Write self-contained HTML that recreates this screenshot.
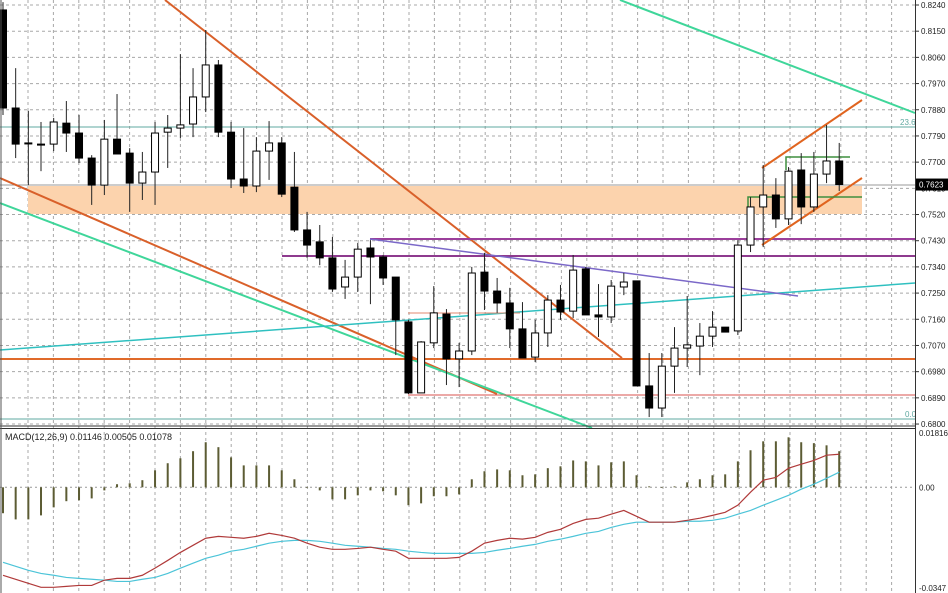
<!DOCTYPE html>
<html><head><meta charset="utf-8"><style>
html,body{margin:0;padding:0;background:#fff;}
svg{display:block;font-family:"Liberation Sans",sans-serif;}
</style></head><body>
<svg id="chart" width="948" height="593" xmlns="http://www.w3.org/2000/svg">
<rect width="948" height="593" fill="#fff"/>
<g id="grid"></g>
<rect x="28" y="186" width="834" height="28" fill="#fcd3ad"/>
<g id="lines">
<line x1="0" y1="185" x2="915" y2="185" stroke="#9a9a9a" stroke-width="1"/>
<line x1="0" y1="127" x2="915" y2="127" stroke="#5fa8a0" stroke-width="1"/>
<line x1="0" y1="419" x2="915" y2="419" stroke="#5fa8a0" stroke-width="1"/>
<line x1="165" y1="0" x2="622" y2="358" stroke="#d9602a" stroke-width="2"/>
<line x1="0" y1="178" x2="497" y2="394" stroke="#d9602a" stroke-width="2"/>
<line x1="0" y1="203" x2="592" y2="428" stroke="#3fd69a" stroke-width="2"/>
<line x1="620" y1="0" x2="915" y2="113" stroke="#3fd69a" stroke-width="2"/>
<line x1="0" y1="350" x2="915" y2="283" stroke="#2fc0c0" stroke-width="1.5"/>
<line x1="370" y1="239" x2="915" y2="239" stroke="#9b3f9b" stroke-width="2"/>
<line x1="282" y1="256" x2="915" y2="256" stroke="#8e3a8e" stroke-width="2"/>
<line x1="370" y1="239" x2="798" y2="296" stroke="#7b68c8" stroke-width="1.5"/>
<line x1="0" y1="359" x2="915" y2="359" stroke="#e06a2a" stroke-width="2"/>
<line x1="408" y1="395" x2="915" y2="395" stroke="#d9534f" stroke-width="1"/>
<line x1="408" y1="313" x2="520" y2="313" stroke="#e08a70" stroke-width="1"/>
<line x1="762" y1="168" x2="862" y2="100" stroke="#e0641f" stroke-width="2"/>
<line x1="762" y1="245" x2="862" y2="178" stroke="#e0641f" stroke-width="2"/>
<polyline points="786,170 786,157 850,157" fill="none" stroke="#3f8f3f" stroke-width="1.5"/>
<polyline points="748,207 748,197 862,197" fill="none" stroke="#3f8f3f" stroke-width="1.5"/>
<text x="900" y="125" font-size="8" fill="#5fa8a0">23.6</text>
<text x="905" y="417" font-size="8" fill="#5fa8a0">0.0</text>
</g>
<g id="candles"></g>
<g id="macd"></g>
<line x1="0" y1="426" x2="915" y2="426" stroke="#333" stroke-width="1"/>
<line x1="0" y1="428.5" x2="915" y2="428.5" stroke="#333" stroke-width="1"/>
<line x1="915.5" y1="0" x2="915.5" y2="593" stroke="#333" stroke-width="1"/>
<line x1="1" y1="0" x2="1" y2="593" stroke="#555" stroke-width="1"/>
<g id="axis"></g>
<text x="5" y="440" font-size="9" fill="#222">MACD(12,26,9) 0.01146 0.00505 0.01078</text>
</svg>
<script>
const opens=[.8223,.7886,.7766,.7762,.7762,.7834,.7800,.7714,.7621,.7779,.7731,.7628,.7666,.7803,.7817,.7831,.7924,.8034,.7803,.7642,.7618,.7738,.7766,.7614,.7467,.7426,.7371,.7271,.7305,.7405,.7374,.7305,.7151,.6907,.7079,.7178,.7024,.7051,.7322,.7257,.7216,.7127,.7030,.7113,.7226,.7188,.7333,.7175,.7168,.7271,.7292,.6931,.6855,.6999,.7061,.7068,.7102,.7133,.7120,.7415,.7546,.7587,.7505,.7673,.7546,.7659,.7704];
const highs=[.8250,.8023,.7876,.7838,.7852,.7910,.7862,.7724,.7845,.7934,.7748,.7735,.7838,.7862,.8071,.8023,.8154,.8051,.7838,.7817,.7786,.7841,.7786,.7735,.7529,.7484,.7443,.7364,.7422,.7432,.7381,.7305,.7158,.7085,.7274,.7195,.7079,.7340,.7388,.7302,.7268,.7219,.7158,.7243,.7278,.7381,.7340,.7281,.7295,.7319,.7292,.7044,.7044,.7133,.7240,.7147,.7188,.7133,.7432,.7580,.7690,.7645,.7683,.7731,.7735,.7828,.7766];
const lows=[.7862,.7714,.7621,.7669,.7738,.7735,.7697,.7553,.7587,.7728,.7529,.7570,.7553,.7680,.7783,.7786,.7872,.7786,.7611,.7594,.7597,.7639,.7580,.7460,.7371,.7346,.7254,.7230,.7254,.7212,.7278,.7037,.6903,.6907,.7061,.6934,.6927,.7037,.7192,.7182,.7061,.7027,.7013,.7065,.7158,.7164,.7175,.7099,.7147,.7243,.6931,.6824,.6824,.6907,.6996,.6968,.7065,.7116,.7106,.7391,.7408,.7474,.7484,.7487,.7529,.7628,.7601];
const closes=[.7886,.7762,.7764,.7760,.7838,.7800,.7714,.7621,.7779,.7728,.7628,.7666,.7800,.7817,.7828,.7924,.8034,.7803,.7642,.7618,.7738,.7766,.7590,.7467,.7415,.7371,.7264,.7305,.7401,.7374,.7302,.7158,.6907,.7082,.7182,.7024,.7051,.7319,.7257,.7216,.7127,.7027,.7113,.7226,.7185,.7329,.7175,.7168,.7274,.7288,.6931,.6855,.6999,.7061,.7072,.7102,.7133,.7116,.7415,.7546,.7587,.7505,.7669,.7546,.7659,.7704,.7623];
const histValues=[-.0084,-.0104,-.0104,-.0091,-.0065,-.0045,-.0042,-.0036,-.0010,.0010,.0013,.0023,.0055,.0078,.0094,.0117,.0146,.0130,.0097,.0071,.0071,.0071,.0055,.0026,0,-.0010,-.0039,-.0039,-.0026,-.0010,-.0013,-.0026,-.0058,-.0052,-.0029,-.0029,-.0023,.0026,.0052,.0058,.0055,.0039,.0042,.0062,.0068,.0087,.0084,.0071,.0081,.0084,.0039,.0003,0,.0003,.0016,.0026,.0039,.0042,.0084,.0120,.0149,.0149,.0162,.0146,.0143,.0136,.0117];
const macdLine=[-.0285,-.0298,-.0311,-.0324,-.0324,-.0321,-.0318,-.0318,-.0301,-.0295,-.0295,-.0285,-.0262,-.0237,-.0211,-.0188,-.0165,-.0159,-.0162,-.0165,-.0159,-.0149,-.0156,-.0165,-.0181,-.0194,-.0201,-.0201,-.0198,-.0194,-.0201,-.0207,-.0230,-.0230,-.0230,-.0230,-.0227,-.0207,-.0181,-.0172,-.0165,-.0168,-.0162,-.0146,-.0136,-.0117,-.0104,-.0100,-.0087,-.0075,-.0094,-.0113,-.0113,-.0113,-.0107,-.0100,-.0091,-.0081,-.0058,-.0016,.0023,.0032,.0062,.0075,.0087,.0104,.0107];
const signalLine=[-.0243,-.0256,-.0269,-.0279,-.0285,-.0292,-.0295,-.0298,-.0301,-.0305,-.0305,-.0298,-.0292,-.0279,-.0262,-.0246,-.0230,-.0220,-.0207,-.0201,-.0191,-.0181,-.0175,-.0172,-.0172,-.0175,-.0181,-.0188,-.0191,-.0194,-.0198,-.0201,-.0207,-.0211,-.0214,-.0214,-.0214,-.0214,-.0211,-.0204,-.0198,-.0191,-.0185,-.0175,-.0168,-.0159,-.0149,-.0143,-.0130,-.0120,-.0113,-.0113,-.0113,-.0113,-.0110,-.0110,-.0107,-.0100,-.0087,-.0075,-.0058,-.0042,-.0026,-.0006,.0010,.0029,.0049];
const priceTicks=["0.8240","0.8150","0.8060","0.7970","0.7880","0.7790","0.7700","0.7610","0.7520","0.7430","0.7340","0.7250","0.7160","0.7070","0.6980","0.6890","0.6800"];
const macdTicks=["0.01816","0.00","-0.0347"];
const macdTickValues=[0.01816,0,-0.0347];

const NS="http://www.w3.org/2000/svg";
function xAt(i){return 3+i*12.67;}
function yP(p){return 5+(0.824-p)*2910;}
function yM(v){return 487.3-v/0.000324;}
function mk(tag,attrs,parent){const e=document.createElementNS(NS,tag);for(const k in attrs)e.setAttribute(k,attrs[k]);parent.appendChild(e);return e;}

const grid=document.getElementById('grid');
for(let x=28;x<915;x+=25.4){
  const l=mk('line',{x1:x,y1:0,x2:x,y2:593,stroke:'#a8a8a8','stroke-width':1,'stroke-dasharray':'3,3'},grid);
  
  
}
const axis=document.getElementById('axis');
priceTicks.forEach(t=>{
  const y=yP(parseFloat(t));
  const l=mk('line',{x1:0,y1:y,x2:915,y2:y,stroke:'#a8a8a8','stroke-width':1,'stroke-dasharray':'3,3'},grid);
  
  
  const tk=mk('line',{x1:915,y1:y,x2:919,y2:y,stroke:'#333'},axis);
  
  
  const tx=mk('text',{x:921,y:y+3,'font-size':8,fill:'#222'},axis);
  tx.textContent=t;
  
  
});
macdTicks.forEach((t,k)=>{
  let y=yM(macdTickValues[k]);
  if(k===0)y=433; if(k===2)y=588;
  const tx=mk('text',{x:919,y:y+3,'font-size':8,fill:'#222'},axis);
  tx.textContent=t;
  
  
});
const cy=yP(closes[closes.length-1]);
const box=mk('rect',{x:916,y:cy-6,width:32,height:12,fill:'#000'},axis);


const bt=mk('text',{x:919,y:cy+3,'font-size':8,fill:'#fff'},axis);
bt.textContent=closes[closes.length-1].toFixed(4);



const cg=document.getElementById('candles');
for(let i=0;i<opens.length;i++){
  const x=xAt(i);
  const w=mk('line',{x1:x,y1:yP(highs[i]),x2:x,y2:yP(lows[i]),stroke:'#222','stroke-width':1},cg);
  
  
  const bull=closes[i]>=opens[i];
  const top=yP(Math.max(opens[i],closes[i])),bot=yP(Math.min(opens[i],closes[i]));
  const b=mk('rect',{x:x-3.5,y:top,width:7,height:Math.max(1,bot-top),fill:bull?'#fff':'#000',stroke:'#000','stroke-width':1},cg);
  
  
}

const mg=document.getElementById('macd');
const z=mk('line',{x1:0,y1:yM(0),x2:915,y2:yM(0),stroke:'#999','stroke-dasharray':'2,3'},mg);


histValues.forEach((v,i)=>{
  const x=xAt(i);
  const r=mk('rect',{x:x-1,y:Math.min(yM(v),yM(0)),width:2,height:Math.max(0.6,Math.abs(yM(v)-yM(0))),fill:'#5c5c34'},mg);
  
  
});
const sp=mk('polyline',{points:signalLine.map((v,i)=>xAt(i)+','+yM(v)).join(' '),fill:'none',stroke:'#4cc4d8','stroke-width':1.2},mg);


const mp=mk('polyline',{points:macdLine.map((v,i)=>xAt(i)+','+yM(v)).join(' '),fill:'none',stroke:'#b03a3a','stroke-width':1.2},mg);


</script>
</body></html>
